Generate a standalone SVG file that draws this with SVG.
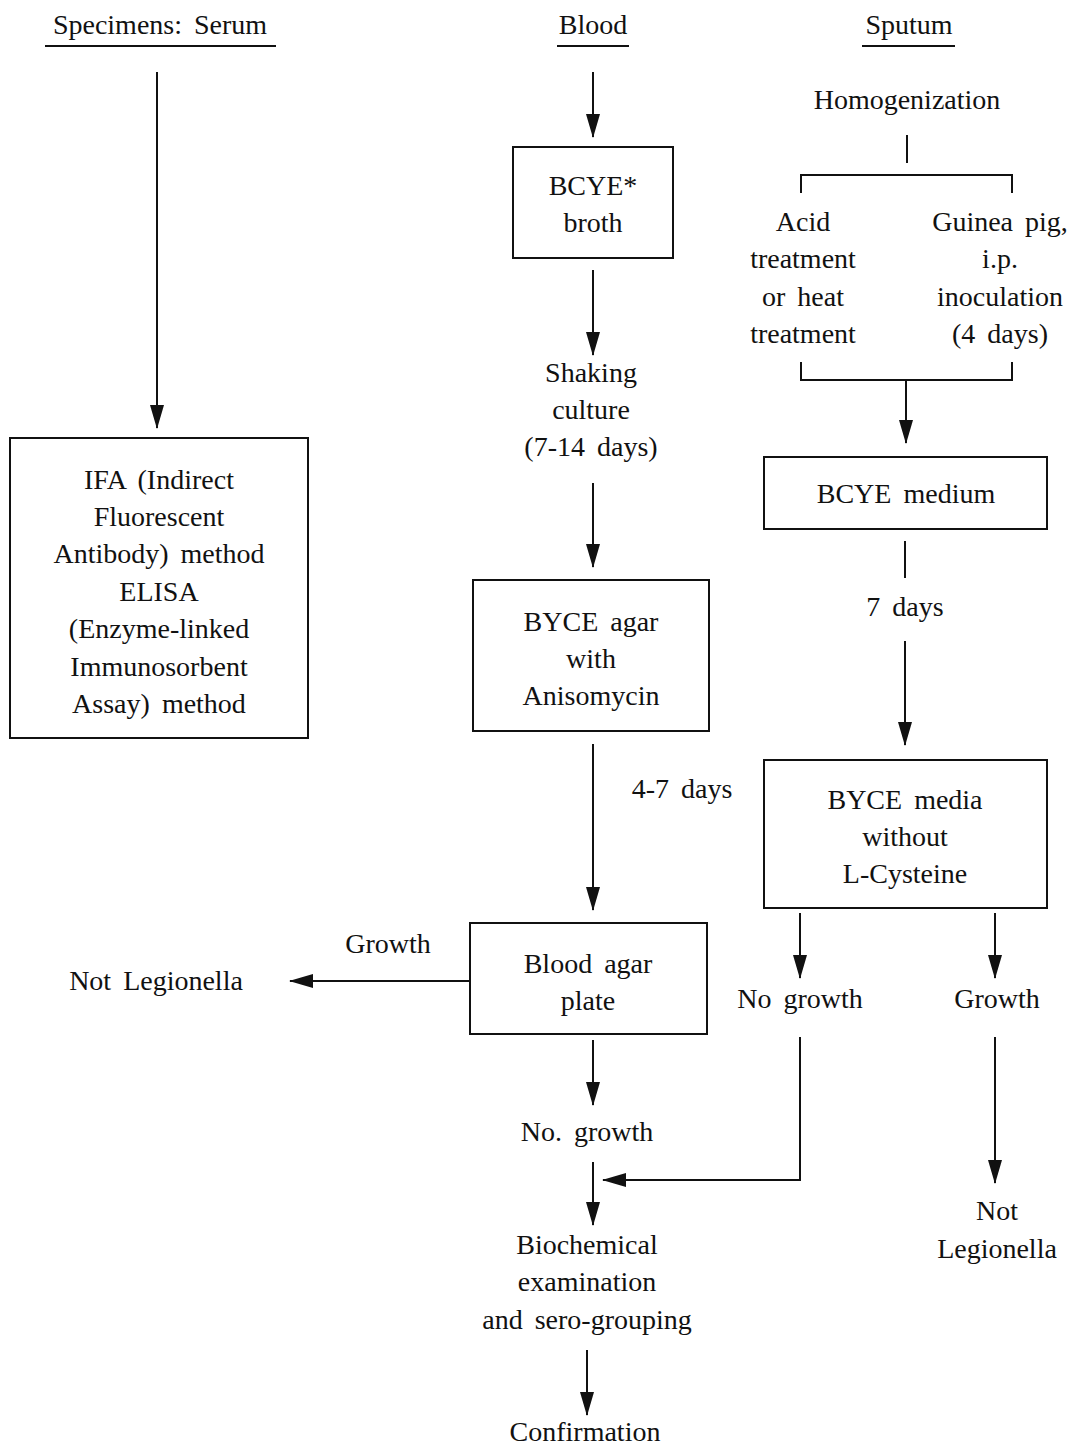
<svg xmlns="http://www.w3.org/2000/svg" width="1077" height="1447" viewBox="0 0 1077 1447">
<style>
text{font-family:"Liberation Serif","Times New Roman",serif;font-size:28px;fill:#111;text-anchor:middle;word-spacing:5px}
.box{fill:none;stroke:#111;stroke-width:2}
.ln{fill:none;stroke:#111;stroke-width:2}
.arr{fill:none;stroke:#111;stroke-width:2;marker-end:url(#ah)}
</style>
<defs>
<marker id="ah" markerWidth="24" markerHeight="14" refX="23" refY="7" viewBox="0 0 24 14" orient="auto" markerUnits="userSpaceOnUse">
<path d="M0,0 L24,7 L0,14 Z" fill="#111"/>
</marker>
</defs>
<rect width="1077" height="1447" fill="#fff"/>
<g id="headers">
<text x="160" y="34">Specimens: Serum</text>
<line class="ln" x1="45" y1="46" x2="276" y2="46" stroke-width="2.5"/>
<text x="593" y="34">Blood</text>
<line class="ln" x1="557" y1="46" x2="629" y2="46" stroke-width="2.5"/>
<text x="909" y="34">Sputum</text>
<line class="ln" x1="862" y1="46" x2="955" y2="46" stroke-width="2.5"/>
</g>
<g id="connectors">
<line class="arr" x1="157" y1="72" x2="157" y2="428"/>
<line class="arr" x1="593" y1="72" x2="593" y2="137"/>
<line class="arr" x1="593" y1="270" x2="593" y2="355"/>
<line class="arr" x1="593" y1="483" x2="593" y2="567"/>
<line class="arr" x1="593" y1="744" x2="593" y2="910"/>
<line class="arr" x1="470" y1="981" x2="290" y2="981"/>
<line class="arr" x1="593" y1="1040" x2="593" y2="1105"/>
<line class="arr" x1="593" y1="1162" x2="593" y2="1225"/>
<polyline class="arr" points="800,1037 800,1180 603,1180"/>
<line class="arr" x1="587" y1="1350" x2="587" y2="1415"/>
<line class="ln" x1="907" y1="135" x2="907" y2="163"/>
<polyline class="ln" points="801,193 801,175 1012,175 1012,193"/>
<polyline class="ln" points="801,362 801,380 1012,380 1012,362"/>
<line class="arr" x1="906" y1="380" x2="906" y2="443"/>
<line class="ln" x1="905" y1="541" x2="905" y2="578"/>
<line class="arr" x1="905" y1="641" x2="905" y2="745"/>
<line class="arr" x1="800" y1="913" x2="800" y2="978"/>
<line class="arr" x1="995" y1="913" x2="995" y2="978"/>
<line class="arr" x1="995" y1="1037" x2="995" y2="1183"/>
</g>
<g id="ifa">
<rect class="box" x="10" y="438" width="298" height="300"/>
<text x="159" y="489">IFA (Indirect</text>
<text x="159" y="526">Fluorescent</text>
<text x="159" y="563">Antibody) method</text>
<text x="159" y="601">ELISA</text>
<text x="159" y="638">(Enzyme-linked</text>
<text x="159" y="676">Immunosorbent</text>
<text x="159" y="713">Assay) method</text>
</g>
<g id="bcye-broth">
<rect class="box" x="513" y="147" width="160" height="111"/>
<text x="593" y="195">BCYE*</text>
<text x="593" y="232">broth</text>
</g>
<g id="shaking">
<text x="591" y="382">Shaking</text>
<text x="591" y="419">culture</text>
<text x="591" y="456">(7-14 days)</text>
</g>
<g id="byce-agar">
<rect class="box" x="473" y="580" width="236" height="151"/>
<text x="591" y="631">BYCE agar</text>
<text x="591" y="668">with</text>
<text x="591" y="705">Anisomycin</text>
</g>
<g id="days47"><text x="682" y="798">4-7 days</text></g>
<g id="blood-agar">
<rect class="box" x="470" y="923" width="237" height="111"/>
<text x="588" y="973">Blood agar</text>
<text x="588" y="1010">plate</text>
</g>
<g id="growth1"><text x="388" y="953">Growth</text></g>
<g id="not-leg1"><text x="156" y="990">Not Legionella</text></g>
<g id="no-growth1"><text x="587" y="1141">No. growth</text></g>
<g id="biochem">
<text x="587" y="1254">Biochemical</text>
<text x="587" y="1291">examination</text>
<text x="587" y="1329">and sero-grouping</text>
</g>
<g id="confirm"><text x="585" y="1441">Confirmation</text></g>
<g id="homog"><text x="907" y="109">Homogenization</text></g>
<g id="acid">
<text x="803" y="231">Acid</text>
<text x="803" y="268">treatment</text>
<text x="803" y="306">or heat</text>
<text x="803" y="343">treatment</text>
</g>
<g id="guinea">
<text x="1000" y="231">Guinea pig,</text>
<text x="1000" y="268">i.p.</text>
<text x="1000" y="306">inoculation</text>
<text x="1000" y="343">(4 days)</text>
</g>
<g id="bcye-medium">
<rect class="box" x="764" y="457" width="283" height="72"/>
<text x="906" y="503">BCYE medium</text>
</g>
<g id="days7"><text x="905" y="616">7 days</text></g>
<g id="byce-media">
<rect class="box" x="764" y="760" width="283" height="148"/>
<text x="905" y="809">BYCE media</text>
<text x="905" y="846">without</text>
<text x="905" y="883">L-Cysteine</text>
</g>
<g id="no-growth2"><text x="800" y="1008">No growth</text></g>
<g id="growth2"><text x="997" y="1008">Growth</text></g>
<g id="not-leg2">
<text x="997" y="1220">Not</text>
<text x="997" y="1258">Legionella</text>
</g>
</svg>
